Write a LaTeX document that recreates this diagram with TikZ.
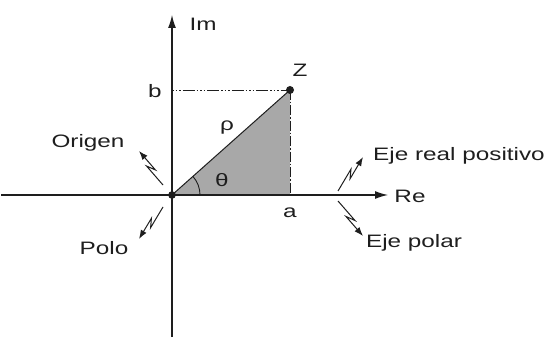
\documentclass[tikz,border=0pt]{standalone}
\usepackage{fontspec}
\setmainfont{Liberation Sans}
\usetikzlibrary{arrows.meta,calc}
\definecolor{greyfill}{HTML}{A8A8A8}
\definecolor{ink}{HTML}{1E1E1E}
\tikzset{
  lbl/.style={inner sep=0pt, text=ink, font=\fontsize{18}{20}\selectfont, xscale=1.35},
  axis/.style={line width=1.2pt, draw=ink, -{Latex[length=13pt,width=8pt]}},
  zig/.style={line width=1pt, draw=ink, -{Latex[length=9pt,width=6.5pt]}},
  guide/.style={line width=0.9pt, draw=ink}
}
\newcommand{\zigarrow}[2]{%
  \draw[zig] (#1) -- ($(#1)!0.6!(#2)!2.5pt!90:(#2)$) -- ($(#1)!0.4!(#2)!2.5pt!-90:(#2)$) -- (#2);}
\begin{document}
\begin{tikzpicture}[x=1pt,y=-1pt]
\useasboundingbox (0,0) rectangle (554,339);
\coordinate (O) at (172,195);
\coordinate (Z) at (290,90);
\coordinate (A) at (290,195);
\coordinate (B) at (172,90);
\coordinate (ytop) at (172,15);
\coordinate (ybot) at (172,337);
\coordinate (xl) at (1,195);
\coordinate (xr) at (388,195);
% shaded triangle
\fill[greyfill] (O) -- (Z) -- (A) -- cycle;
\draw[guide, line width=1pt] (O) -- (Z);
% axes
\draw[axis] (ybot) -- (ytop);
\draw[axis] (xl) -- (xr);
% guides
\draw[guide, dash pattern=on 1.5pt off 2pt on 1.5pt off 2pt on 1.5pt off 2pt on 12pt off 2pt] (B) -- (Z);
\draw[guide, dash pattern=on 10pt off 2pt on 1.5pt off 2pt] (Z) -- (A);
% angle arc
\draw[guide] ($(O)+(28,0)$) arc[start angle=0, end angle=-41.7, radius=28];
% points
\fill[ink] (O) circle (3.8pt);
\fill[ink] (Z) circle (4pt);
% labels
\node[lbl] (im) at (203,24) {Im};
\node[lbl] (re) at (410,196) {Re};
\node[lbl] (zl) at (300,70) {Z};
\node[lbl] (bl) at (155,91) {b};
\node[lbl] (al) at (290,213) {a};
\node[lbl] (rho) at (227,128) {ρ};
\node[lbl] (th) at (222,180) {θ};
\node[lbl] (orig) at (88,143) {Origen};
\node[lbl] (polo) at (104,248) {Polo};
\node[lbl] (erp) at (459,156) {Eje real positivo};
\node[lbl] (ep) at (414,243) {Eje polar};
% zig arrows
\coordinate (o1) at (163,185); \coordinate (o2) at (139,151);
\coordinate (p1) at (163,207); \coordinate (p2) at (139,239);
\coordinate (r1) at (338,191); \coordinate (r2) at (363,157);
\coordinate (q1) at (338,201); \coordinate (q2) at (363,236);
\zigarrow{o1}{o2}
\zigarrow{p1}{p2}
\zigarrow{r1}{r2}
\zigarrow{q1}{q2}
\end{tikzpicture}
\end{document}
